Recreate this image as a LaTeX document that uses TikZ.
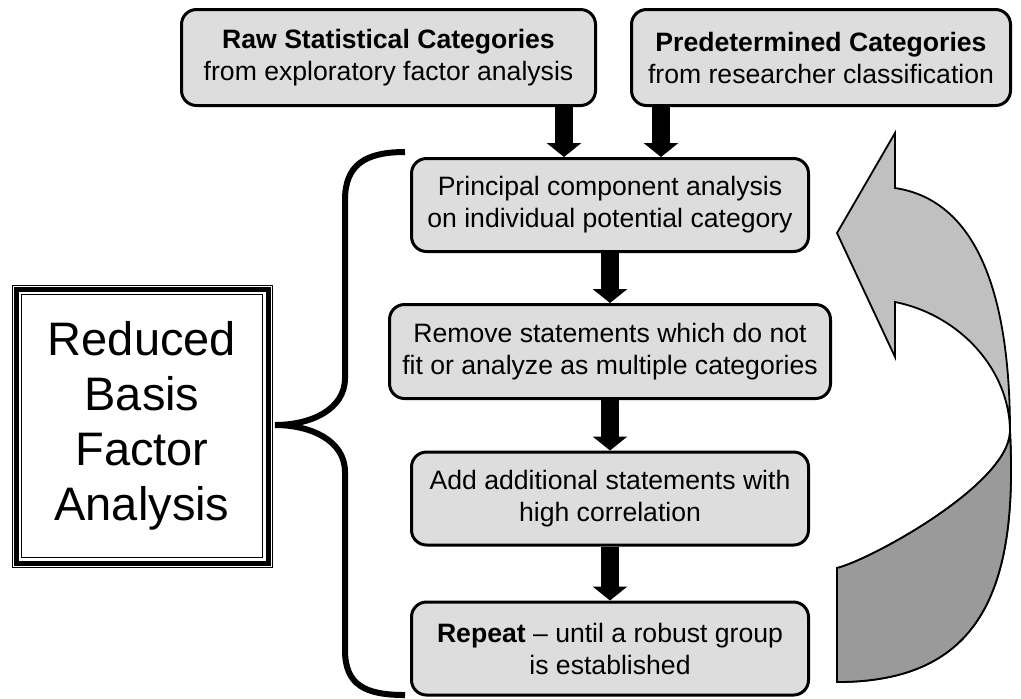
\documentclass[tikz,border=0pt]{standalone}
\usepackage{fontspec}
\setmainfont{Liberation Sans}
\usetikzlibrary{arrows.meta}
\definecolor{boxgray}{HTML}{DDDDDD}
\definecolor{bandlight}{HTML}{C0C0C0}
\definecolor{banddark}{HTML}{9A9A9A}

\begin{document}
\begin{tikzpicture}[x=0.5pt, y=-0.5pt,
                    stage/.style={draw, line width=1.5pt, rounded corners=7.5pt, fill=boxgray,
                                  align=center, inner sep=0pt, font=\fontsize{13.3}{16}\selectfont,
                                  minimum width=198.5pt, minimum height=46.5pt},
                    flow/.style={line width=9pt, -{Triangle[width=17pt,length=7pt]}}]
      \useasboundingbox (0,0) rectangle (1021,698);

      \node[stage, minimum width=207pt, minimum height=48pt] (raw) at (388.5,57.5)
        {\textbf{Raw Statistical Categories}\\from exploratory factor analysis};
      \node[stage, minimum width=189.5pt, minimum height=48pt] (pred) at (821,57.5)
        {\textbf{Predetermined Categories}\\from researcher classification};
      \node[stage] (pca) at (610,205) {Principal component analysis\\on individual potential category};
      \node[stage, minimum width=220.5pt, minimum height=47pt] (remove) at (610,351.5)
        {Remove statements which do not\\fit or analyze as multiple categories};
      \node[stage] (addst) at (610,498.5) {Add additional statements with\\high correlation};
      \node[stage] (repeat) at (610,648.5) {\textbf{Repeat} -- until a robust group\\is established};

      % left title box with triple frame
      \node[draw, line width=0.5pt, minimum width=120.5pt, minimum height=131.5pt, inner sep=0pt,
            align=center, font=\fontsize{23.5}{27.5}\selectfont] (rbfa) at (142,426)
        {Reduced\\Basis\\Factor\\Analysis};
      \foreach \d/\w in {2.5/2.5, 4.5/0.5}
        \draw[line width=\w pt] ([shift={(-\d pt,\d pt)}]rbfa.north west)
          rectangle ([shift={(\d pt,-\d pt)}]rbfa.south east);

      % brace
      \draw[line width=3pt] (405,152) .. controls (365,152) and (345,165) .. (345,200)
        -- (345,378) .. controls (345,410) and (310,425) .. (275,425)
        .. controls (310,425) and (345,440) .. (345,472)
        -- (345,650) .. controls (345,685) and (365,695) .. (405,695);

      % arrows
      \coordinate (inA) at ([xshift=-23pt]pca.north);
      \coordinate (inB) at ([xshift=25.5pt]pca.north);
      \draw[flow] (raw.south -| inA) -- (inA);
      \draw[flow] (pred.south -| inB) -- (inB);
      \foreach \a/\b in {pca/remove, remove/addst, addst/repeat}
        \draw[flow] (\a) -- (\b);

      % curved return arrow
      \filldraw[fill=bandlight, line width=0.9pt] (895,188) .. controls (975,200) and (1010,290) .. (1010,432)
        .. controls (1018,590) and (980,682) .. (837,682) -- (837,568)
        .. controls (870,560) and (1008,485) .. (1010,432)
        .. controls (1010,370) and (960,315) .. (895,302)
        -- (895,357) -- (837,233) -- (895,133) -- cycle;
      \filldraw[fill=banddark, line width=0.9pt] (837,682) .. controls (980,682) and (1018,590) .. (1010,432)
        .. controls (1008,485) and (870,560) .. (837,568) -- cycle;
\end{tikzpicture}
\end{document}
